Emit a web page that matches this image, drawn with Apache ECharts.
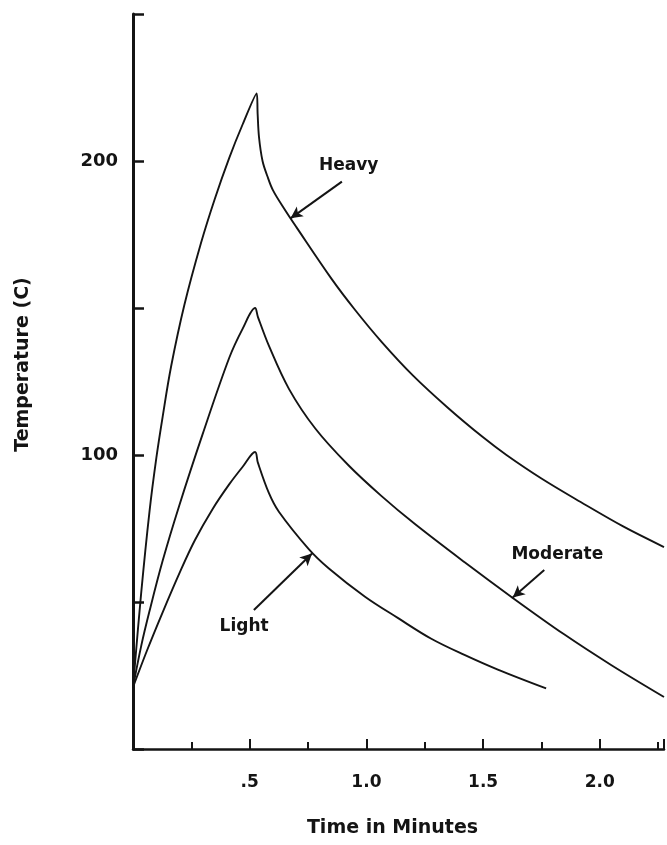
<!DOCTYPE html>
<html><head><meta charset="utf-8">
<script src="https://cdn.jsdelivr.net/npm/echarts@6/dist/echarts.min.js"></script>
<style>html,body{margin:0;padding:0;background:#fff}#c{width:667px;height:845px}</style>
</head><body><div id="c"></div>
<script>
// Time (minutes) and temperature (C) readings for each curve
const heavyRiseTime = [0, 0.035, 0.071, 0.10, 0.127, 0.163, 0.22, 0.291, 0.35, 0.412, 0.47, 0.53];
const heavyRiseTemp = [21, 53, 81, 99, 113, 130, 151, 172, 187, 201, 212.5, 223];
const heavyFallTime = [0.53, 0.534, 0.54, 0.555, 0.575, 0.6, 0.65, 0.7, 0.85, 0.95, 1.065, 1.2, 1.35, 1.5, 1.6, 1.75, 1.918, 2.1, 2.275];
const heavyFallTemp = [223, 216, 208, 200, 195, 190, 183.5, 177.5, 160, 149.5, 138.5, 127, 116, 106, 100, 92, 84, 75.7, 68.7];

const modRiseTime = [0, 0.035, 0.071, 0.127, 0.199, 0.298, 0.412, 0.47, 0.523];
const modRiseTemp = [21, 35, 47, 64, 83, 107, 133, 143, 150];
const modFallTime = [0.523, 0.535, 0.583, 0.668, 0.781, 0.923, 1.065, 1.208, 1.421, 1.62, 1.847, 2.05, 2.275];
const modFallTemp = [150, 147, 137, 122.5, 109, 96.5, 86, 76.5, 63.5, 51.8, 39, 28.5, 17.7];

const lightRiseTime = [0, 0.06, 0.127, 0.2, 0.265, 0.34, 0.412, 0.47, 0.523];
const lightRiseTemp = [21, 33.5, 46.5, 60, 71, 81.5, 90, 96, 101];
const lightFallTime = [0.523, 0.535, 0.582, 0.625, 0.753, 0.838, 0.994, 1.136, 1.278, 1.42, 1.563, 1.77];
const lightFallTemp = [101, 97.4, 87.1, 80.7, 68, 61.5, 51.8, 44.5, 37.5, 32, 27, 20.6];

// Annotation positions (data units) and texts
const seriesNames = ['Heavy', 'Moderate', 'Light'];
const labelAt = [[0.924, 198.3], [1.818, 66], [0.476, 41.8]];
const arrowFrom = [[0.895, 193], [1.762, 60.9], [0.518, 47.3]];
const arrowTo = [[0.675, 180.5], [1.627, 51.5], [0.767, 66.5]];

// Axis tick labels
const xTickLabels = {0.5: '.5', 1: '1.0', 1.5: '1.5', 2: '2.0'};
const yTickLabels = {100: '100', 200: '200'};

const FONT = 'DejaVu Sans';
const INK = '#141414';

function zip(t, v) { return t.map((x, i) => [x, v[i]]); }
const curves = [
  zip(heavyRiseTime, heavyRiseTemp).concat(zip(heavyFallTime, heavyFallTemp)),
  zip(modRiseTime, modRiseTemp).concat(zip(modFallTime, modFallTemp)),
  zip(lightRiseTime, lightRiseTemp).concat(zip(lightFallTime, lightFallTemp))
];

const chart = echarts.init(document.getElementById('c'), null, {renderer: 'canvas'});
chart.setOption({
  backgroundColor: '#ffffff',
  animation: false,
  grid: {left: 133, right: 0, top: 14, bottom: 96, containLabel: false},
  xAxis: [{
    type: 'value', min: 0, max: 2.275, interval: 0.5,
    name: 'Time in Minutes', nameLocation: 'middle', nameGap: 70,
    nameTextStyle: {fontFamily: FONT, fontWeight: 'bold', fontSize: 19, color: INK, padding: [0, 12, 0, 0]},
    axisLine: {show: true, onZero: false, lineStyle: {color: INK, width: 2.5}},
    axisTick: {show: true, inside: true, length: 10, lineStyle: {color: INK, width: 2}},
    minorTick: {show: true, splitNumber: 2, length: 7, lineStyle: {color: INK, width: 2}},
    splitLine: {show: false}, minorSplitLine: {show: false},
    axisLabel: {
      margin: 25, fontFamily: FONT, fontWeight: 'bold', fontSize: 17, color: INK,
      showMinLabel: true, showMaxLabel: true,
      formatter: v => xTickLabels[Math.round(v * 100) / 100] || ''
    }
  }],
  yAxis: [{
    type: 'value', min: 0, max: 250, interval: 50,
    name: 'Temperature (C)', nameLocation: 'middle', nameGap: 100, nameRotate: 90,
    nameTextStyle: {fontFamily: FONT, fontWeight: 'bold', fontSize: 19, color: INK, padding: [0, 0, 0, 34]},
    axisLine: {show: true, onZero: false, lineStyle: {color: INK, width: 3}},
    axisTick: {show: true, inside: true, length: 11, lineStyle: {color: INK, width: 2.5}},
    splitLine: {show: false},
    axisLabel: {
      margin: 15, fontFamily: FONT, fontWeight: 'bold', fontSize: 18, color: INK,
      formatter: v => yTickLabels[v] || ''
    }
  }],
  series: curves.map((data, i) => ({
    name: seriesNames[i],
    type: 'line',
    data: data,
    smooth: 0.35,
    showSymbol: false,
    symbol: 'none',
    clip: true,
    lineStyle: {color: INK, width: 1.9},
    emphasis: {disabled: true},
    markLine: {
      silent: true,
      symbol: ['none', 'arrow'],
      symbolSize: [9, 12],
      lineStyle: {color: INK, width: 2, type: 'solid'},
      label: {show: false},
      emphasis: {disabled: true},
      data: [[{coord: arrowFrom[i]}, {coord: arrowTo[i]}]]
    },
    markPoint: {
      silent: true,
      symbol: 'rect',
      symbolSize: 1,
      itemStyle: {color: 'rgba(0,0,0,0)'},
      label: {
        show: true, position: 'inside', formatter: seriesNames[i],
        fontFamily: FONT, fontWeight: 'bold', fontSize: 17, color: INK
      },
      emphasis: {disabled: true},
      data: [{coord: labelAt[i], name: seriesNames[i]}]
    }
  }))
});
</script></body></html>
